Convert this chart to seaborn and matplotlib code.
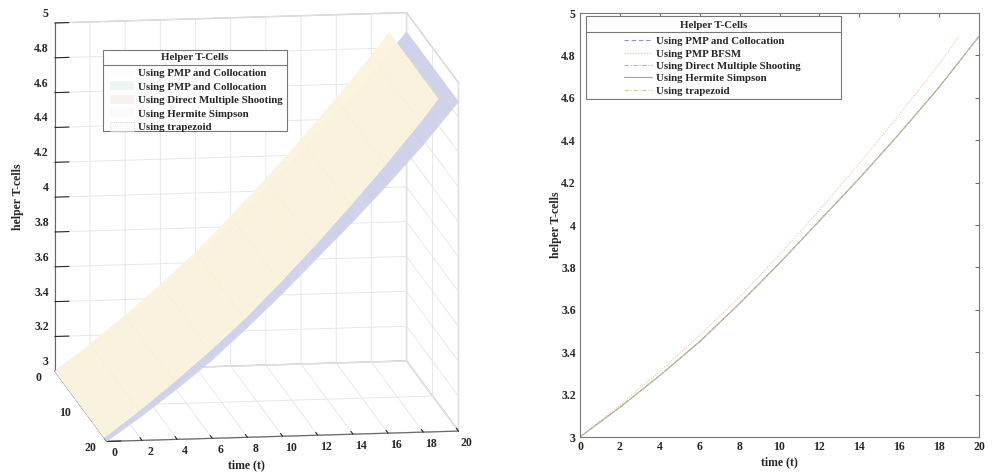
import numpy as np
import pandas as pd
import matplotlib
matplotlib.use("Agg")
import matplotlib.pyplot as plt
import seaborn as sns
from matplotlib.patches import Patch, Rectangle
from matplotlib.lines import Line2D
from mpl_toolkits.mplot3d import proj3d

# ---------------- data ----------------
time_main = [0, 2, 4, 6, 8, 10, 12, 14, 16, 18, 20]
cells_main = [3.00, 3.14, 3.29, 3.45, 3.63, 3.82, 4.02, 4.22, 4.43, 4.65, 4.89]
time_bfsm = [0, 2, 4, 6, 8, 10, 12, 14, 16, 18, 19]
cells_bfsm = [3.00, 3.15, 3.31, 3.48, 3.66, 3.86, 4.07, 4.29, 4.52, 4.76, 4.89]
depth_main = [0, 20]
depth_bfsm = [0, 19]

x_ticks = [0, 2, 4, 6, 8, 10, 12, 14, 16, 18, 20]
y_ticks = [3, 3.2, 3.4, 3.6, 3.8, 4, 4.2, 4.4, 4.6, 4.8, 5]
y_ticklabels = ["3", "3.2", "3.4", "3.6", "3.8", "4", "4.2", "4.4", "4.6", "4.8", "5"]
depth_ticks = [0, 10, 20]

legend_title = "Helper T-Cells"
left_labels = ["Using PMP and Collocation", "Using PMP and Collocation",
               "Using Direct Multiple Shooting", "Using Hermite Simpson", "Using trapezoid"]
right_labels = ["Using PMP and Collocation", "Using PMP BFSM",
                "Using Direct Multiple Shooting", "Using Hermite Simpson", "Using trapezoid"]

sns.set_style("white")
plt.rcParams["font.family"] = ["Liberation Serif", "DejaVu Serif"]
plt.rcParams["font.weight"] = "bold"
plt.rcParams["axes.labelweight"] = "bold"

W, H = 1000, 475
fig = plt.figure(figsize=(10, 4.75), dpi=100)
fig.patch.set_facecolor("white")

def fx(px):
    return px / W

def fy(py):
    return 1 - py / H

# ---------------- left: 3D surfaces ----------------
ax3 = fig.add_axes([-0.030, -0.012, 0.56, 1.04], projection="3d")
ax3.set_proj_type("ortho")
ax3.computed_zorder = False

def make_grid(tvals, zvals, drange, n):
    d = np.linspace(drange[0], drange[1], n)
    T, D = np.meshgrid(np.asarray(tvals, float), d)
    Z = np.tile(np.asarray(zvals, float), (n, 1))
    return T, D, Z

Tm, Dm, Zm = make_grid(time_main, cells_main, depth_main, 41)
Tb, Db, Zb = make_grid(time_bfsm, cells_bfsm, depth_bfsm, 39)

ax3.plot_surface(Tm, Dm, Zm, color="#d3d5ec", edgecolor="#c3c6e3",
                 linewidth=0.25, shade=False, zorder=1, rstride=1, cstride=1)
ax3.plot_surface(Tb, Db, Zb, color="#fcf5df", edgecolor="#f9f0d6",
                 linewidth=0.25, shade=False, zorder=2, rstride=1, cstride=1)

ax3.set_xlim(0, 20)
ax3.set_ylim(20, 0)
ax3.set_zlim(3, 5)
ax3.set_xticks(x_ticks)
ax3.set_yticks(depth_ticks)
ax3.set_zticks(y_ticks)
ax3.set_xticklabels([""] * len(x_ticks))
ax3.set_yticklabels([""] * len(depth_ticks))
ax3.set_zticklabels([""] * len(y_ticks))
ax3.view_init(elev=11.5, azim=-98.4)
ax3.set_box_aspect((1, 1, 1), zoom=1.21)
for axis in (ax3.xaxis, ax3.yaxis, ax3.zaxis):
    axis.set_pane_color((1, 1, 1, 1))
    axis.pane.set_edgecolor("#c4c4c4")
    axis.line.set_color("#666666")
    axis.line.set_linewidth(0.8)
    axis._axinfo["grid"].update(color="#e4e4e4", linewidth=0.6)
    axis._axinfo["tick"].update(inward_factor=0.0, outward_factor=0.5)

fig.text(fx(246), fy(465), "time (t)", ha="center", va="center", fontsize=8.5, fontweight="bold")
fig.text(fx(18), fy(197), "helper T-cells", ha="center", va="center", rotation=90,
         fontsize=8.5, fontweight="bold")

# ---------------- right: 2D lines ----------------
ax = fig.add_axes([0.58, 0.08, 0.399, 0.8926])
df_main = pd.DataFrame({"t": time_main, "v": cells_main})
df_bfsm = pd.DataFrame({"t": time_bfsm, "v": cells_bfsm})

styles = [
    ("#8595d2", (0, (4, 2.5)), df_main),
    ("#f3b09c", (0, (1, 1.5)), df_bfsm),
    ("#b2b2c4", (0, (4, 1.5, 1, 1.5)), df_main),
    ("#a4a4a4", "-", df_main),
    ("#cccb8c", (0, (4, 1.5, 1, 1.5)), df_main),
]
for (col, ls, d), lab in zip(styles, right_labels):
    sns.lineplot(data=d, x="t", y="v", ax=ax, color=col, linestyle=ls,
                 linewidth=0.7, label=lab, legend=False)

ax.set_xlim(0, 20)
ax.set_ylim(3, 5)
ax.set_xticks(x_ticks)
ax.set_yticks(y_ticks)
ax.set_yticklabels(y_ticklabels)
ax.tick_params(direction="in", length=3, width=0.6, top=True, right=True,
               labelsize=8.5, pad=3, color="#444444")
for s in ax.spines.values():
    s.set_color("#777777")
    s.set_linewidth(0.8)
ax.set_xlabel("time (t)", fontsize=8.5, fontweight="bold", labelpad=2)
ax.set_ylabel("helper T-cells", fontsize=8.5, fontweight="bold", labelpad=-0.5)

# ---------------- legends (MATLAB style boxes with title row) ----------------
def matlab_legend(handles, labels, frame, title_y, sep_y, entries_x, entries_top,
                  spacing, hlen):
    x0, y0, x1, y1 = frame
    fig.add_artist(Rectangle((fx(x0), fy(y1)), fx(x1) - fx(x0), fy(y0) - fy(y1),
                             transform=fig.transFigure, facecolor="white",
                             edgecolor="#777777", linewidth=0.8, zorder=5))
    fig.add_artist(Line2D([fx(x0), fx(x1)], [fy(sep_y), fy(sep_y)], transform=fig.transFigure,
                          color="#777777", linewidth=0.8, zorder=6))
    fig.text(fx((x0 + x1) / 2), fy(title_y), legend_title, ha="center", va="center",
             fontsize=7.8, fontweight="bold", zorder=7)
    lg = fig.legend(handles, labels, loc="upper left",
                    bbox_to_anchor=(fx(entries_x), fy(entries_top)),
                    fontsize=7.8, frameon=False, handlelength=hlen, handleheight=0.9,
                    handletextpad=0.35, labelspacing=spacing, borderpad=0, borderaxespad=0)
    lg.set_zorder(8)
    return lg

left_handles = [
    Patch(facecolor="#fdfdfd", edgecolor="none"),
    Patch(facecolor="#edf6f2", edgecolor="none"),
    Patch(facecolor="#f9f0f0", edgecolor="none"),
    Patch(facecolor="#fbfbfb", edgecolor="none"),
    Patch(facecolor="#fbfbfb", edgecolor="#c8c8c8", linestyle=":", linewidth=0.6),
]
matlab_legend(left_handles, left_labels, (103, 50, 287, 131), 58, 65, 110, 68, 0.3, 2.2)

right_handles = [Line2D([], [], color=c, linestyle=ls, linewidth=0.8) for c, ls, _ in styles]
matlab_legend(right_handles, right_labels, (586, 16, 841, 99), 25, 32, 624, 36, 0.2, 2.6)

# ---------------- 3D tick labels placed MATLAB-style ----------------
fig.canvas.draw()
M = ax3.get_proj()

def screen(x, y, z):
    px, py, _ = proj3d.proj_transform(x, y, z, M)
    dx, dy = ax3.transData.transform((px, py))
    return dx, H - dy  # pixel coords, y down

def put(x, y, z, text, ox, oy, ha):
    sx, sy = screen(x, y, z)
    fig.text(fx(sx + ox), fy(sy + oy), text, ha=ha, va="center",
             fontsize=8.5, fontweight="bold")

for v, lab in zip(y_ticks, y_ticklabels):
    put(0, 0, v, lab, -6, -9, "right")
for d in depth_ticks:
    put(0, d, 3, str(d), -16, 7, "center")
for t in x_ticks:
    put(t, 20, 3, str(t), 8, 12, "center")

fig.savefig("out.png", dpi=100, facecolor="white")
